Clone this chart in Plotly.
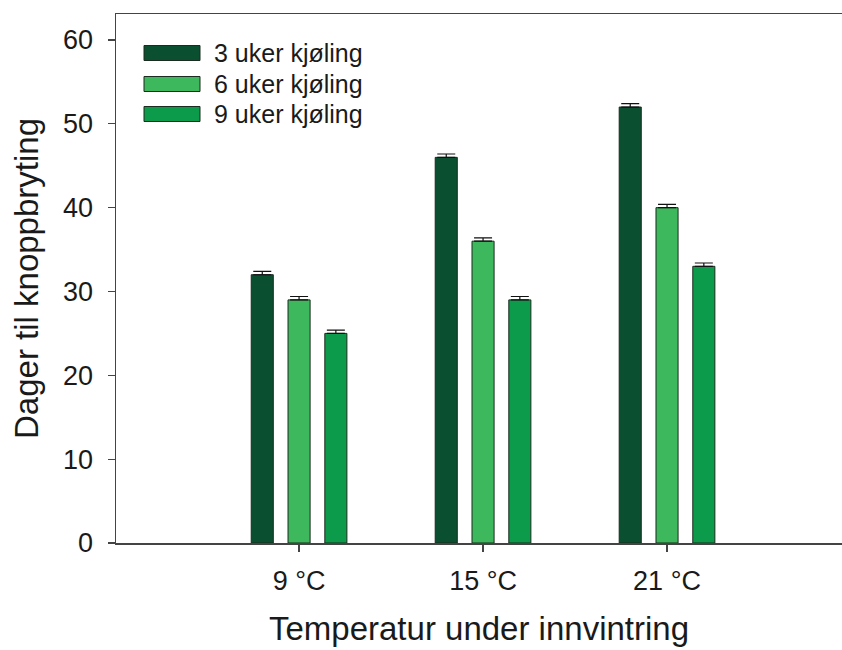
import plotly.graph_objects as go

categories = ["9 °C", "15 °C", "21 °C"]
series_names = ["3 uker kjøling", "6 uker kjøling", "9 uker kjøling"]
values_3uker = [32, 46, 52]
values_6uker = [29, 36, 40]
values_9uker = [25, 29, 33]
err_3uker = [0.4, 0.4, 0.4]
err_6uker = [0.4, 0.4, 0.4]
err_9uker = [0.4, 0.4, 0.4]
y_ticks = [0, 10, 20, 30, 40, 50, 60]

colors = ["#0a4f30", "#3db85c", "#0c9b4a"]
FONT = "Liberation Sans, Arial, sans-serif"

fig = go.Figure()
for name, vals, errs, col in zip(series_names,
                                 [values_3uker, values_6uker, values_9uker],
                                 [err_3uker, err_6uker, err_9uker], colors):
    fig.add_trace(go.Bar(
        x=categories, y=vals, name=name,
        marker=dict(color=col, line=dict(color="#1c2b1f", width=1)),
        error_y=dict(type="data", array=errs, arrayminus=[0] * len(errs),
                     symmetric=False, color="#111111", thickness=1.2, width=9),
        showlegend=False, hoverinfo="skip",
    ))

# manual legend (wide swatches like the original)
L, T = 116, 14
W, H = 726.0, 529.0
row_y = [53, 84, 114]          # in figure pixels
for name, col, yy in zip(series_names, colors, row_y):
    yc = (T + H - yy) / H
    fig.add_shape(type="rect", xref="paper", yref="paper",
                  x0=(144 - L) / W, x1=(200 - L) / W,
                  y0=yc - 7.5 / H, y1=yc + 7.5 / H,
                  fillcolor=col, line=dict(color="#1c2b1f", width=1))
    fig.add_annotation(xref="paper", yref="paper", x=(212 - L) / W, y=yc,
                       text=name, showarrow=False, xanchor="left", yanchor="middle",
                       font=dict(family=FONT, size=25, color="#1a1a1a"))

fig.update_layout(
    width=842, height=650,
    margin=dict(l=L, r=0, t=T, b=107),
    paper_bgcolor="white", plot_bgcolor="white",
    barmode="group", bargap=0.4, bargroupgap=0.4,
    font=dict(family=FONT, color="#1a1a1a"),
)
fig.update_xaxes(
    range=[-0.995, 2.951], showgrid=False, zeroline=False,
    showline=True, linecolor="#444444", linewidth=1.5, mirror=True,
    ticks="outside", ticklen=7, tickcolor="#444444", tickwidth=1.2,
    tickfont=dict(size=27, family=FONT, color="#1a1a1a"),
    ticklabelstandoff=6,
    title=dict(text="Temperatur under innvintring", standoff=22,
               font=dict(size=33, family=FONT, color="#1a1a1a")),
    automargin=False,
)
fig.update_yaxes(
    range=[0, 63.1], tickvals=y_ticks, showgrid=False, zeroline=False,
    showline=True, linecolor="#444444", linewidth=1.5,
    ticks="outside", ticklen=7, tickcolor="#444444", tickwidth=1.2,
    tickfont=dict(size=27, family=FONT, color="#1a1a1a"),
    ticklabelstandoff=9,
    title=dict(text="Dager til knoppbryting", standoff=14,
               font=dict(size=33, family=FONT, color="#1a1a1a")),
    automargin=False,
)

fig.write_html(
    "out.html",
    config={"displayModeBar": False, "staticPlot": True},
    post_script=("document.body.style.margin='0';"
                 "document.body.style.overflow='hidden';"
                 "document.documentElement.style.overflow='hidden';"),
)
